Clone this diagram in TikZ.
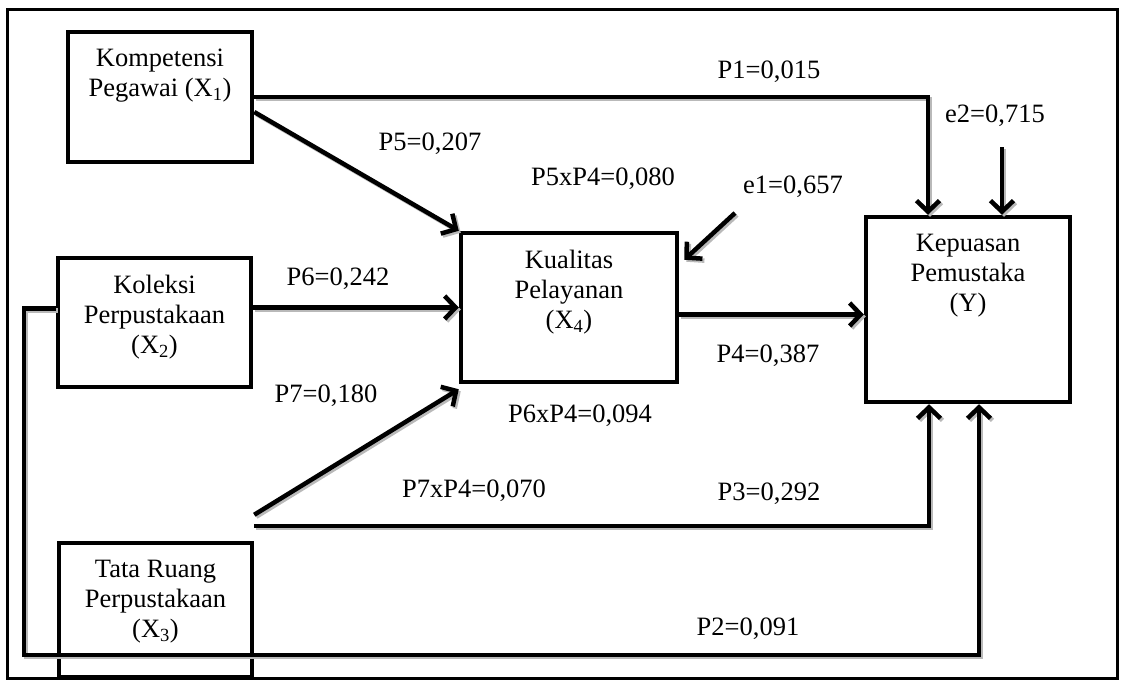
\documentclass[tikz,border=0pt]{standalone}
\usepackage{fontspec}
\setmainfont{Liberation Serif}
\usepackage{tikz}
\usetikzlibrary{positioning,arrows.meta}

\tikzset{
	varbox/.style={draw, rectangle, line width=4.5pt, inner sep=0pt},
	vartext/.style={align=center, inner sep=0pt, font=\fontsize{26.5}{30}\selectfont},
	coef/.style={anchor=base, inner sep=0pt, font=\fontsize{26.5}{30}\selectfont},
	link/.style={line width=4.5pt},
	arrowed/.style={-{Straight Barb[length=11pt,width=23pt]}}
}

% all connectors, drawn once as shadow and once in black
\newcommand\pathlinks{
	\draw[link, arrowed] (x1.east) -| ([xshift=-40pt]y.north);
	\draw[link, arrowed] ([yshift=-15pt]x1.east) -- (x4.north west);
	\draw[link, arrowed] (x2.east |- x4.west) -- (x4.west);
	\draw[link, arrowed] ([yshift=26pt]x3.north east) -- ([yshift=-5pt]x4.south west);
	\draw[link, arrowed] ([yshift=-7pt]x4.east) -- ([yshift=-7pt]x4.east -| y.west);
	\draw[link, arrowed] ([yshift=15pt]x3.north east) -| ([xshift=-39pt]y.south);
	\draw[link, arrowed] ([yshift=14pt]x2.west) -| (p2c) -| ([xshift=11pt]y.south);
	\draw[link, arrowed] (e1) -- ([xshift=5pt,yshift=-29pt]x4.north east);
	\draw[link, arrowed] (e2) -- (e2 |- y.north);
}

\begin{document}
\begin{tikzpicture}[x=1pt, y=-1pt]
	\useasboundingbox (0,0) rectangle (1124,680);
	\draw[line width=3pt] (7,9) rectangle (1117,678);

	\node[varbox, minimum width=184, minimum height=130] (x1) at (160,97) {};
	\node[varbox, minimum width=193, minimum height=129] (x2) at (154.5,322.5) {};
	\node[varbox, minimum width=193, minimum height=134] (x3) at (155.5,610) {};
	\node[varbox, minimum width=216, minimum height=149] (x4) at (569,307.5) {};
	\node[varbox, minimum width=204, minimum height=185] (y) at (968,309.5) {};

	\node[vartext, below=19pt of x1.north] (x1t) {Kompetensi\\Pegawai (X\textsubscript{1})};
	\node[vartext, below=19pt of x2.north] (x2t) {Koleksi\\Perpustakaan\\(X\textsubscript{2})};
	\node[vartext, below=19pt of x3.north] (x3t) {Tata Ruang\\Perpustakaan\\(X\textsubscript{3})};
	\node[vartext, below=19pt of x4.north] (x4t) {Kualitas\\Pelayanan\\(X\textsubscript{4})};
	\node[vartext, below=19pt of y.north] (yt) {Kepuasan\\Pemustaka\\(Y)};

	\coordinate (e1) at (735,213);
	\coordinate (e2) at (1002,147);
	\coordinate (p2c) at (24,655);

	\begin{scope}[color=gray!55, transform canvas={shift={(2pt,-2pt)}}]
		\pathlinks
	\end{scope}
	\pathlinks

	\node[coef] (p1) at (769,78) {P1=0,015};
	\node[coef] (r2) at (995,122) {e2=0,715};
	\node[coef] (p5) at (430,150) {P5=0,207};
	\node[coef] (p54) at (603,185) {P5xP4=0,080};
	\node[coef] (r1) at (793,193) {e1=0,657};
	\node[coef] (p6) at (338,285) {P6=0,242};
	\node[coef] (p4) at (768,362) {P4=0,387};
	\node[coef] (p7) at (326,402) {P7=0,180};
	\node[coef] (p64) at (580,422) {P6xP4=0,094};
	\node[coef] (p74) at (474,497) {P7xP4=0,070};
	\node[coef] (p3) at (769,500) {P3=0,292};
	\node[coef] (p2) at (748,635) {P2=0,091};
\end{tikzpicture}
\end{document}
